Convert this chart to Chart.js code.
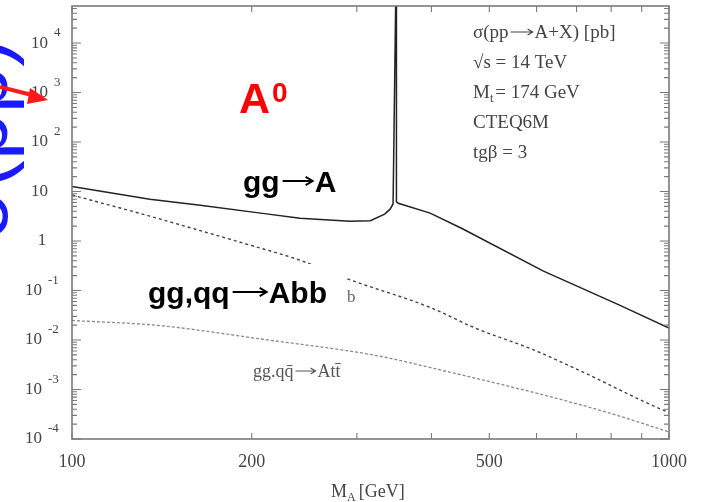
<!DOCTYPE html>
<html>
<head>
<meta charset="utf-8">
<script src="https://cdn.jsdelivr.net/npm/chart.js@4.4.1/dist/chart.umd.min.js"></script>
<style>
  html, body { margin: 0; padding: 0; background: #fff; }
  #wrap { width: 703px; height: 502px; position: relative; }
</style>
</head>
<body>
<div id="wrap"><canvas id="c" width="703" height="502"></canvas></div>
<script>
// M_A in GeV, sigma in pb
const massGgA  = [100, 135, 164, 207, 241, 292, 316, 334, 341, 345, 349.5, 349.5, 352, 398, 450, 615, 828, 1000];
const sigmaGgA = [12.6, 7.0, 5.3, 3.66, 2.9, 2.52, 2.58, 3.5, 4.4, 5.6, 1e6, 6.2, 5.8, 3.66, 1.79, 0.25, 0.05, 0.0174];

const massAbb  = [100, 135, 164, 199, 241, 289, 398, 476, 592, 700, 978, 1000];
const sigmaAbb = [8.5, 3.18, 1.62, 0.822, 0.408, 0.173, 0.0454, 0.017, 0.00638, 0.00259, 3.82e-4, 3.45e-4];

const massAtt  = [100, 140, 207, 324, 408, 624, 807, 1000];
const sigmaAtt = [0.0248, 0.0196, 0.0105, 0.00483, 0.00259, 7.45e-4, 3.17e-4, 1.39e-4];

const xTickLabels = [100, 200, 500, 1000];
const xMinorTicks = [100, 200, 300, 400, 500, 600, 700, 800, 900, 1000];
const yExponents  = [-4, -3, -2, -1, 0, 1, 2, 3, 4];

function pts(xs, ys) { return xs.map((x, i) => ({ x: x, y: ys[i] })); }

const serif = '"Liberation Serif", "DejaVu Serif", serif';
const sans = '"Liberation Sans", Arial, sans-serif';

// draw a row of pieces: [text, font, dy, gapAfter] or [null, arrowWidth, dy, lineWidth, head]
function runs(ctx, parts, x, y) {
  for (const p of parts) {
    if (p[0] === null) {
      const w = p[1], ay = y + p[2], h = p[4];
      ctx.save();
      ctx.strokeStyle = ctx.fillStyle;
      ctx.lineWidth = p[3];
      ctx.beginPath();
      ctx.moveTo(x + 2, ay); ctx.lineTo(x + w - 2, ay);
      ctx.moveTo(x + w - 2 - h, ay - h * 0.6); ctx.lineTo(x + w - 2, ay); ctx.lineTo(x + w - 2 - h, ay + h * 0.6);
      ctx.stroke();
      ctx.restore();
      x += w;
      continue;
    }
    ctx.font = p[1];
    ctx.fillText(p[0], x, y + (p[2] || 0));
    x += ctx.measureText(p[0]).width + (p[3] || 0);
  }
}

const decor = {
  id: 'decor',
  afterDatasetsDraw(chart) {
    const ctx = chart.ctx;
    const a = chart.chartArea;
    const xs = chart.scales.x, ys = chart.scales.y;
    ctx.save();

    // frame
    ctx.strokeStyle = '#7a7a7a';
    ctx.lineWidth = 1.6;
    ctx.strokeRect(a.left, a.top, a.right - a.left, a.bottom - a.top);

    // inward ticks, y
    ctx.lineWidth = 1.1;
    for (const e of yExponents) {
      for (let m = 1; m <= 9; m++) {
        const v = m * Math.pow(10, e);
        if (v < ys.min || v > ys.max) continue;
        const py = ys.getPixelForValue(v);
        const len = m === 1 ? 9 : 5;
        ctx.beginPath();
        ctx.moveTo(a.left, py); ctx.lineTo(a.left + len, py);
        ctx.moveTo(a.right, py); ctx.lineTo(a.right - len, py);
        ctx.stroke();
      }
    }
    // inward ticks, x
    for (const v of xMinorTicks) {
      const px = xs.getPixelForValue(v);
      ctx.beginPath();
      ctx.moveTo(px, a.bottom); ctx.lineTo(px, a.bottom - 6);
      ctx.moveTo(px, a.top); ctx.lineTo(px, a.top + 6);
      ctx.stroke();
    }

    // y tick labels
    ctx.fillStyle = '#444';
    ctx.textBaseline = 'middle';
    for (const e of yExponents) {
      const py = ys.getPixelForValue(Math.pow(10, e));
      ctx.font = '17px ' + serif;
      if (e === 0) {
        ctx.textAlign = 'center';
        ctx.fillText('1', 42, py);
      } else if (e === 1) {
        ctx.textAlign = 'right';
        ctx.fillText('10', 48, py);
      } else {
        const baseRight = e > 0 ? 48 : 42;
        ctx.textAlign = 'right';
        ctx.fillText('10', baseRight, py);
        ctx.font = '13px ' + serif;
        ctx.textAlign = 'left';
        ctx.fillText(String(e), baseRight + 6, py - 10);
      }
    }

    // x tick labels
    ctx.textAlign = 'center';
    ctx.font = '18px ' + serif;
    for (const v of xTickLabels) {
      ctx.fillText(String(v), xs.getPixelForValue(v), a.bottom + 23);
    }
    ctx.textAlign = 'left';
    ctx.textBaseline = 'alphabetic';

    const f19 = '19px ' + serif, f12 = '12px ' + serif;
    // x title
    runs(ctx, [['M', '18px ' + serif], ['A', f12, 4, 3], ['[GeV]', '18px ' + serif]], 331, 497);

    // info block
    runs(ctx, [['σ(pp', f19], [null, 26, -6, 1.2, 5], ['A+X) [pb]', f19]], 473, 38);
    runs(ctx, [['√s = 14 TeV', f19]], 473, 68);
    runs(ctx, [['M', f19], ['t', f12, 4, 2], ['= 174 GeV', f19]], 473, 98);
    runs(ctx, [['CTEQ6M', f19]], 473, 128);
    runs(ctx, [['tgβ = 3', f19]], 473, 158);

    // original faint label
    ctx.fillStyle = '#555';
    const f18 = '18px ' + serif;
    runs(ctx, [['gg.qq\u0304', f18], [null, 24, -6, 1.2, 5], ['Att\u0304', f18]], 253, 377);

    // white patch and overlay label
    ctx.fillStyle = '#fff';
    ctx.fillRect(140, 264, 206, 52);
    ctx.fillStyle = '#666';
    ctx.font = '17px ' + serif;
    ctx.fillText('b', 347, 302);

    ctx.fillStyle = '#000';
    const b30 = 'bold 30px ' + sans;
    runs(ctx, [['gg,qq', b30, 0, 1], [null, 38, -11, 2, 7], ['Abb', b30]], 148, 303);
    runs(ctx, [['gg', b30, 0, 1], [null, 34, -11, 2, 7], ['A', b30]], 243, 192);

    ctx.fillStyle = '#ff0000';
    ctx.font = 'bold 43px ' + sans;
    ctx.fillText('A', 239, 113);
    ctx.font = 'bold 28px ' + sans;
    ctx.fillText('0', 272, 102);

    // blue rotated axis label, cut at the edge
    ctx.save();
    ctx.translate(7, 240);
    ctx.rotate(-Math.PI / 2);
    ctx.fillStyle = '#1a1aff';
    ctx.font = '84px ' + sans;
    ctx.fillText('σ(pp)', 0, 0);
    ctx.restore();

    // red arrow
    ctx.strokeStyle = '#ff1a1a';
    ctx.fillStyle = '#ff1a1a';
    ctx.lineWidth = 4;
    ctx.beginPath();
    ctx.moveTo(0, 87); ctx.lineTo(36, 96);
    ctx.stroke();
    ctx.beginPath();
    ctx.moveTo(48, 100); ctx.lineTo(30, 88); ctx.lineTo(27, 104);
    ctx.closePath();
    ctx.fill();

    ctx.restore();
  }
};

new Chart(document.getElementById('c'), {
  type: 'line',
  data: {
    datasets: [
      { data: pts(massGgA, sigmaGgA), borderColor: '#222', borderWidth: 1.5, pointRadius: 0, tension: 0 },
      { data: pts(massAbb, sigmaAbb), borderColor: '#444', borderWidth: 1.4, borderDash: [3, 3], pointRadius: 0, cubicInterpolationMode: 'monotone' },
      { data: pts(massAtt, sigmaAtt), borderColor: '#8a8a8a', borderWidth: 1.3, borderDash: [3, 2], pointRadius: 0, cubicInterpolationMode: 'monotone' }
    ]
  },
  options: {
    responsive: false,
    animation: false,
    devicePixelRatio: 1,
    layout: { padding: { left: 72, right: 34, top: 6, bottom: 63 } },
    plugins: { legend: { display: false }, tooltip: { enabled: false } },
    scales: {
      x: { type: 'logarithmic', min: 100, max: 1000, display: false },
      y: { type: 'logarithmic', min: 1e-4, max: 5.6e4, display: false }
    }
  },
  plugins: [decor]
});
</script>
</body>
</html>
